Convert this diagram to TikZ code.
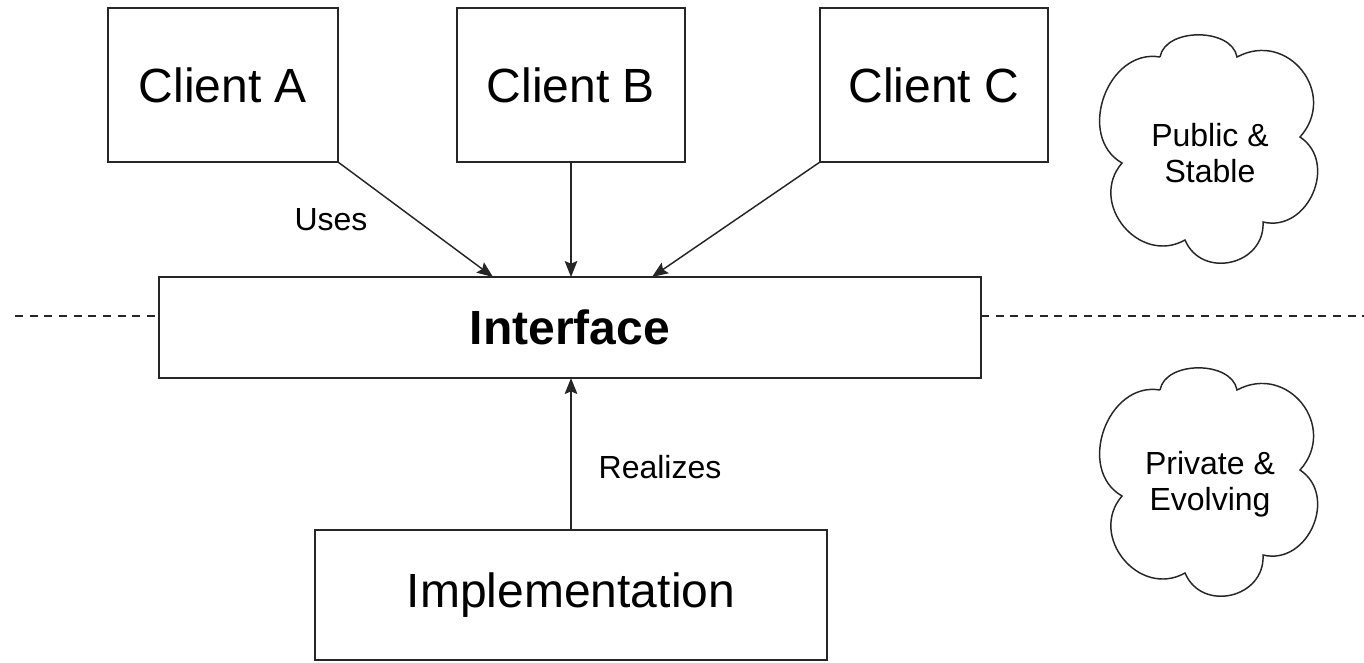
\documentclass[tikz,border=0pt]{standalone}
\usepackage{fontspec}
\setmainfont{Liberation Sans}
\usetikzlibrary{arrows.meta}
\newdimen\pxl
\pxl=0.75pt
\tikzset{
  lw/.style={line width=1.1pt, draw=black!85},
  box/.style={lw, draw, rectangle, inner sep=0pt, outer sep=0pt,
    font=\fontsize{36}{43}\selectfont},
  lbl/.style={inner sep=0pt, align=center, font=\fontsize{24}{27}\selectfont},
  arr/.style={lw, -{Stealth[length=12pt,width=9.5pt,inset=2pt]}},
  dashline/.style={lw, dash pattern=on 6pt off 5pt},
  cloudpic/.pic={
    \draw[lw, fill=white] (-51,-94)
      to[bend left=80, looseness=1.0] (26,-94)
      to[bend left=80, looseness=1.45] (89,-14)
      to[bend left=80, looseness=1.28] (52,71)
      to[bend left=80, looseness=1.38] (-26,89)
      to[bend left=80, looseness=1.35] (-89,12)
      to[bend left=80, looseness=1.21] (-51,-94);
  }
}
\begin{document}
\begin{tikzpicture}[x=0.75pt, y=-0.75pt]
  \useasboundingbox (0,0) rectangle (1364,662);
  % boxes
  \node[box, minimum width=230\pxl, minimum height=154\pxl] (A) at (223,85) {Client A};
  \node[box, minimum width=228\pxl, minimum height=154\pxl] (B) at (571,85) {Client B};
  \node[box, minimum width=228\pxl, minimum height=154\pxl] (C) at (934,85) {Client C};
  \node[box, minimum width=822\pxl, minimum height=101\pxl, font=\fontsize{36}{43}\selectfont\bfseries] (I) at (570,327.5) {Interface};
  \node[box, minimum width=512\pxl, minimum height=130\pxl] (Impl) at (571,595) {Implementation};
  % dashed separator
  \coordinate (dl) at (15,316);
  \coordinate (dr) at (1364,316);
  \draw[dashline] (dl) -- (dl -| I.west);
  \draw[dashline] (I.east |- dr) -- (dr);
  % connectors
  \draw[arr] (A.south east) -- ([xshift=-77\pxl]I.north);
  \draw[arr] (B.south) -- (B.south |- I.north);
  \draw[arr] (C.south west) -- ([xshift=82\pxl]I.north);
  \draw[arr] (Impl.north) -- (Impl.north |- I.south);
  % labels
  \node[lbl] (uses) at (331,220) {Uses};
  \node[lbl] (real) at (660,467) {Realizes};
  % clouds
  \pic at (1211,151) {cloudpic};
  \pic at (1211,484) {cloudpic};
  \node[lbl] (pub) at (1210,153) {Public \&\\Stable};
  \node[lbl] (priv) at (1210,484) {Private \&\\Evolving};
\end{tikzpicture}
\end{document}
